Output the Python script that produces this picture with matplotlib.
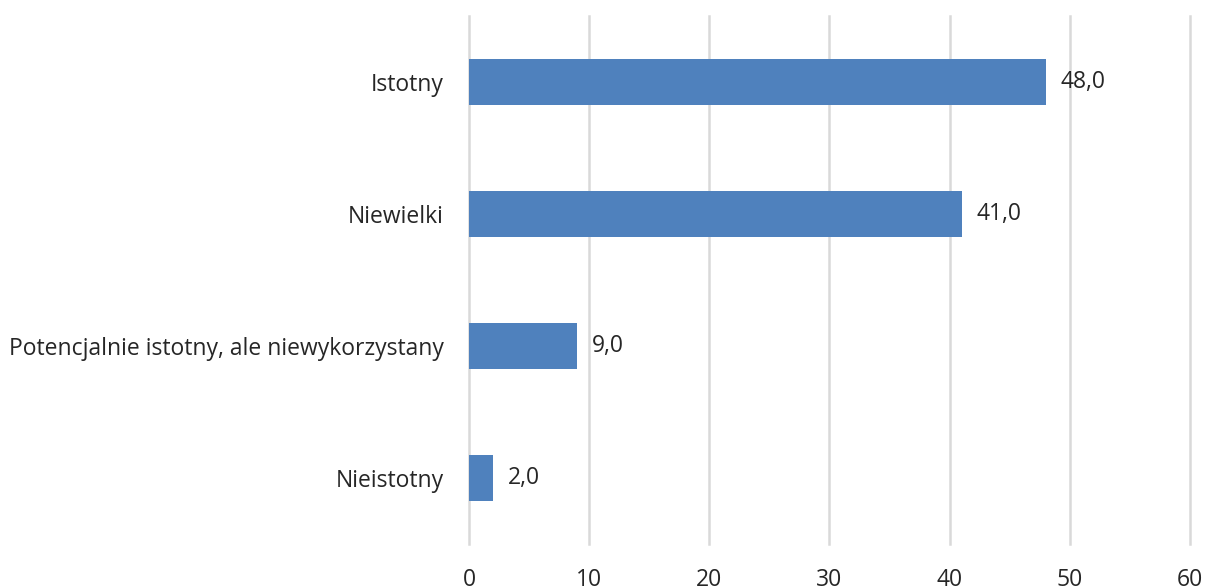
import matplotlib
matplotlib.use("Agg")
import matplotlib.pyplot as plt

categories = ["Istotny", "Niewielki", "Potencjalnie istotny, ale niewykorzystany", "Nieistotny"]
values = [48.0, 41.0, 9.0, 2.0]
x_ticks = [0, 10, 20, 30, 40, 50, 60]

plt.rcParams["font.family"] = ["Open Sans", "DejaVu Sans"]

fig = plt.figure(figsize=(12.08, 5.87), dpi=100)
ax = fig.add_axes([0.3882, 0.0733, 0.5969, 0.8994])

y = list(range(len(categories)))
ax.barh(y, values, height=0.355, color="#4f81bd", zorder=3)

for yi, v in zip(y, values):
    ax.text(v + 1.2, yi, f"{v:.1f}".replace(".", ","), va="center", ha="left",
            fontsize=16.5, color="#262626")

ax.set_xlim(0, 60)
ax.set_ylim(3.5, -0.5)
ax.set_yticks(y)
ax.set_yticklabels(categories, fontsize=16.5, color="#262626")
ax.set_xticks(x_ticks)
ax.set_xticklabels([str(t) for t in x_ticks], fontsize=16.5, color="#262626")
ax.tick_params(axis="both", length=0)
ax.tick_params(axis="x", pad=17)
ax.tick_params(axis="y", pad=18)

ax.grid(axis="x", color="#d9d9d9", linewidth=1.8, zorder=0)
for gl in ax.get_xgridlines():
    gl.set_clip_on(False)
for s in ax.spines.values():
    s.set_visible(False)

fig.savefig("out.png", dpi=100)
